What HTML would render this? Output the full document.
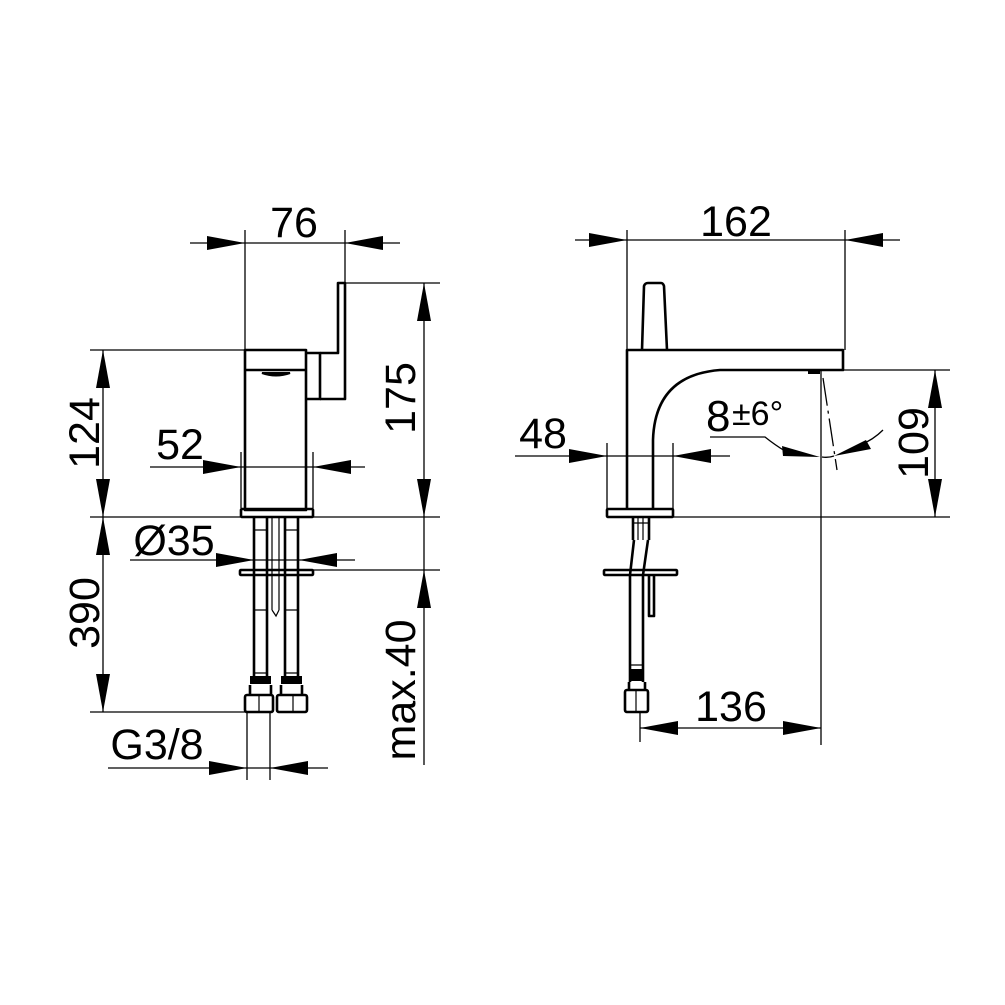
<!DOCTYPE html>
<html><head><style>
html,body{margin:0;padding:0;background:#fff;}
svg{display:block}
text{font-family:"Liberation Sans",sans-serif;fill:#000}
</style></head><body>
<svg width="1005" height="1005" viewBox="0 0 1005 1005" xmlns="http://www.w3.org/2000/svg">
<g stroke="#000" fill="none" stroke-width="1.3">
<line x1="245" y1="230" x2="245" y2="350"/>
<line x1="345" y1="230" x2="345" y2="283"/>
<line x1="190" y1="243" x2="400" y2="243"/>
<line x1="90" y1="350" x2="245" y2="350"/>
<line x1="345" y1="283" x2="440" y2="283"/>
<line x1="90" y1="517" x2="440" y2="517"/>
<line x1="312" y1="570" x2="440" y2="570"/>
<line x1="90" y1="712" x2="245" y2="712"/>
<line x1="103" y1="350" x2="103" y2="712"/>
<line x1="424" y1="283" x2="424" y2="765"/>
<line x1="150" y1="467" x2="365" y2="467"/>
<line x1="241" y1="452" x2="241" y2="508"/>
<line x1="313" y1="452" x2="313" y2="508"/>
<line x1="130" y1="560" x2="355" y2="560"/>
<line x1="247" y1="712" x2="247" y2="780"/>
<line x1="270" y1="712" x2="270" y2="780"/>
<line x1="108" y1="768" x2="328" y2="768"/>
</g>
<g stroke="#000" fill="none" stroke-width="2.6" stroke-linejoin="round">
<rect x="245" y="350" width="61" height="160"/>
<line x1="245" y1="370" x2="306" y2="370"/>
<path d="M306 353 H320 V399 H306"/>
<path d="M320 353 H338 V283 H345 V399 H320"/>
<rect x="241" y="509" width="72" height="8" rx="1"/>
<rect x="240" y="570" width="73" height="5" rx="1"/>
<path d="M254 517 V682 M267 517 V682 M285 517 V682 M298 517 V682"/>
<path d="M250 685 V695 M271 685 V695 M281 685 V695 M302 685 V695"/>
<rect x="245" y="695" width="28" height="17" rx="2"/>
<rect x="277" y="695" width="30" height="17" rx="2"/>
</g>
<g stroke="#000" stroke-width="1.2" fill="none">
<path d="M254 530 H267 M285 530 H298 M254 610 H267 M285 610 H298 M254 673 H267 M285 673 H298"/>
<path d="M272 517 V610 M279 517 V610 M272 610 L276 616 L279 610"/>
<path d="M259 695 V712 M293 695 V712"/>
</g>
<path d="M262 373 Q276 378 290 373 Z" fill="#000" stroke="#000" stroke-width="2"/>
<rect x="250" y="676" width="21" height="8" fill="#000"/>
<rect x="281" y="676" width="21" height="8" fill="#000"/>
<g fill="#000">
<polygon points="245,243 207,236 207,250"/>
<polygon points="345,243 383,236 383,250"/>
<polygon points="103,350 96,388 110,388"/>
<polygon points="103,517 96,479 110,479"/>
<polygon points="103,517 96,555 110,555"/>
<polygon points="103,712 96,674 110,674"/>
<polygon points="424,283 417,321 431,321"/>
<polygon points="424,517 417,479 431,479"/>
<polygon points="424,570 417,608 431,608"/>
<polygon points="241,467 203,460 203,474"/>
<polygon points="313,467 351,460 351,474"/>
<polygon points="254,560 216,553 216,567"/>
<polygon points="299,560 337,553 337,567"/>
<polygon points="247,768 209,761 209,775"/>
<polygon points="270,768 308,761 308,775"/>
</g>
<text x="294" y="237" font-size="43" text-anchor="middle">76</text>
<text x="180" y="459" font-size="43" text-anchor="middle">52</text>
<text x="174" y="555" font-size="43" text-anchor="middle">Ø35</text>
<text x="157" y="759" font-size="43" text-anchor="middle">G3/8</text>
<text transform="translate(99,433) rotate(-90)" font-size="43" text-anchor="middle">124</text>
<text transform="translate(99,613) rotate(-90)" font-size="43" text-anchor="middle">390</text>
<text transform="translate(415,398) rotate(-90)" font-size="43" text-anchor="middle">175</text>
<text transform="translate(415,690) rotate(-90)" font-size="43" text-anchor="middle">max.40</text>

<g stroke="#000" fill="none" stroke-width="1.3">
<line x1="627" y1="230" x2="627" y2="350"/>
<line x1="845" y1="230" x2="845" y2="350"/>
<line x1="575" y1="240" x2="900" y2="240"/>
<line x1="820" y1="370" x2="950" y2="370"/>
<line x1="673" y1="517" x2="950" y2="517"/>
<line x1="935" y1="370" x2="935" y2="517"/>
<line x1="821" y1="370" x2="821" y2="745"/>
<line x1="607" y1="443" x2="607" y2="510"/>
<line x1="673" y1="443" x2="673" y2="510"/>
<line x1="515" y1="456" x2="730" y2="456"/>
<line x1="640" y1="712" x2="640" y2="742"/>
<line x1="640" y1="728" x2="821" y2="728"/>
<path d="M710 437 H765 Q775 445 785 451"/>
<path d="M822 457 Q828 458 834 456 M860 445 Q873 440 883 430"/>
<line x1="823" y1="378" x2="837" y2="470" stroke-dasharray="28,5,3,5"/>
</g>
<g stroke="#000" fill="none" stroke-width="2.6" stroke-linejoin="round">
<path d="M642 350 L644 286 Q645 283 648 283 H661 Q663 283 664 286 L667 350"/>
<path d="M627 508 V350 H843 V370 H720 Q655 375 653 440 V508"/>
<rect x="607" y="509" width="66" height="8" rx="1"/>
<rect x="604" y="570" width="73" height="5" rx="1"/>
<path d="M633 517 V540 M649 517 V540"/>
<path d="M634 540 L630 575 L630 682 M648 540 L643 575 L643 682"/>
<path d="M649 575 V616 H654 V575"/>
<path d="M629 682 V690 M645 682 V690"/>
<rect x="625" y="690" width="23" height="22" rx="2"/>
</g>
<g stroke="#000" stroke-width="1.2" fill="none">
<path d="M633 523 H649 M638 517 V540 M643 517 V540 M630 665 H643 M636 690 V712"/>
</g>
<rect x="630" y="669" width="13" height="12" fill="#000"/>
<rect x="808" y="370" width="12" height="4" fill="#000"/>
<g fill="#000">
<polygon points="627,240 589,233 589,247"/>
<polygon points="845,240 883,233 883,247"/>
<polygon points="935,370 928,408 942,408"/>
<polygon points="935,517 928,479 942,479"/>
<polygon points="607,456 569,449 569,463"/>
<polygon points="673,456 711,449 711,463"/>
<polygon points="640,728 678,721 678,735"/>
<polygon points="821,728 783,721 783,735"/>
<polygon points="820,457 782,446 783,456"/>
<polygon points="834,456 866,440 871,449"/>
</g>
<text x="736" y="236" font-size="43" text-anchor="middle">162</text>
<text x="543" y="448" font-size="43" text-anchor="middle">48</text>
<text x="731" y="721" font-size="43" text-anchor="middle">136</text>
<text x="706" y="431" font-size="44">8</text>
<text x="732" y="425" font-size="34">±6°</text>
<text transform="translate(928,443) rotate(-90)" font-size="43" text-anchor="middle">109</text>
</svg>
</body></html>
